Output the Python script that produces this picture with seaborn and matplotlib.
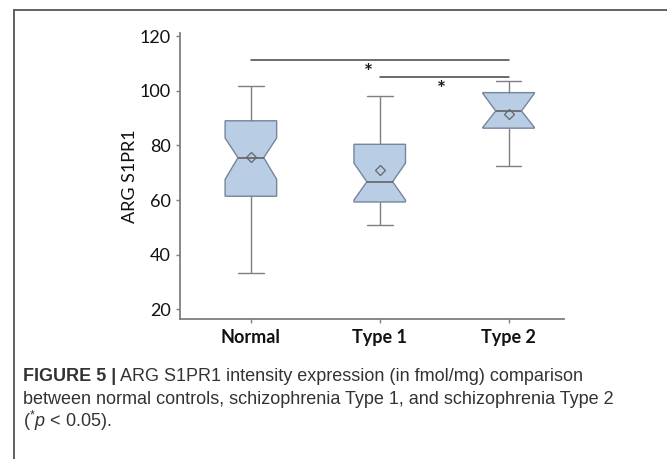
import matplotlib
matplotlib.use("Agg")
import matplotlib.pyplot as plt
import seaborn as sns
import pandas as pd
from matplotlib.lines import Line2D

# box summaries (ARG S1PR1, fmol/mg)
groups = ["Normal", "Type 1", "Type 2"]
whisker_low = [33.2, 50.8, 72.6]
q1 = [61.4, 59.3, 86.3]
medians = [75.5, 66.7, 92.6]
q3 = [89.0, 80.4, 99.3]
whisker_high = [101.7, 98.0, 103.5]
means = [75.8, 71.0, 91.4]
notch_low = [67.6, 60.0, 86.6]
notch_high = [82.7, 73.5, 99.0]

# significance brackets
sig_pairs = [("Normal", "Type 2"), ("Type 1", "Type 2")]
sig_heights = [111.2, 104.9]
star_x = [0.91, 1.48]
star_y = [104.2, 98.0]

y_ticks = [20, 40, 60, 80, 100, 120]

sns.set_style("ticks")
plt.rcParams["font.family"] = ["Lato", "DejaVu Sans"]
plt.rcParams["mathtext.fontset"] = "custom"
plt.rcParams["mathtext.rm"] = "Liberation Sans"
plt.rcParams["mathtext.it"] = "Liberation Sans:italic"

box_fill = "#b9cde5"
box_edge = "#76859a"
grey = "#7f7f7f"

fig = plt.figure(figsize=(6.67, 4.59), dpi=100)
ax = fig.add_axes([180 / 667, 1 - 319 / 459, 384 / 667, 285.7 / 459])

df = pd.DataFrame({"group": groups, "median": medians})
stats = [
    dict(label=g, whislo=wl, q1=a, med=m, q3=b, whishi=wh, mean=mu,
         cilo=cl, cihi=ch, fliers=[])
    for g, wl, a, m, b, wh, mu, cl, ch in zip(
        groups, whisker_low, q1, medians, q3, whisker_high, means,
        notch_low, notch_high)
]

sns.boxplot(
    data=df, x="group", y="median", order=groups, ax=ax,
    width=0.4, color=box_fill, saturation=1, linecolor=box_edge, linewidth=1,
    notch=True, showmeans=True, bxpstats=stats,
    medianprops=dict(color="#5a5a5a", linewidth=1.1),
    whiskerprops=dict(color=grey, linewidth=1),
    capprops=dict(color=grey, linewidth=1),
    meanprops=dict(marker="D", markersize=5, markerfacecolor="none",
                   markeredgecolor="#666666", markeredgewidth=0.9),
)

for (a, b), h in zip(sig_pairs, sig_heights):
    ax.plot([groups.index(a), groups.index(b)], [h, h], color="#444444", lw=1.1)
for x, y in zip(star_x, star_y):
    ax.text(x, y, "*", ha="center", va="baseline", fontsize=15,
            fontweight="bold", color="#1a1a1a")

ax.set_xlim(-0.55, 2.43)
ax.set_ylim(16.5, 121)
ax.set_yticks(y_ticks)
ax.set_xlabel("")
ax.set_ylabel("ARG S1PR1", fontsize=13, color="#111111", labelpad=1)
ax.tick_params(axis="both", colors=grey, length=3, width=1,
               labelsize=13, labelcolor="#111111")
ax.tick_params(axis="x", pad=4)
for lab in ax.get_xticklabels():
    lab.set_fontweight("bold")
for s in ["left", "bottom"]:
    ax.spines[s].set_color(grey)
    ax.spines[s].set_linewidth(1.3)
sns.despine(ax=ax)

# outer frame (left and top edges of the figure panel)
fig.add_artist(Line2D([14 / 667, 14 / 667], [0, 1 - 10 / 459],
                      transform=fig.transFigure, color="#555555", lw=1.3))
fig.add_artist(Line2D([14 / 667, 1], [1 - 10 / 459, 1 - 10 / 459],
                      transform=fig.transFigure, color="#555555", lw=1.3))

cap_font = ["Liberation Sans", "DejaVu Sans"]
cap_kw = dict(fontsize=13, color="#333333", family=cap_font, va="baseline")
t1 = fig.text(23 / 667, 1 - 381 / 459, "FIGURE 5 |", fontweight="bold", **cap_kw)
plt.annotate(" ARG S1PR1 intensity expression (in fmol/mg) comparison",
             xy=(1, 0), xycoords=t1, va="bottom", fontsize=13, color="#333333",
             family=cap_font)
fig.text(23 / 667, 1 - 404 / 459,
         "between normal controls, schizophrenia Type 1, and schizophrenia Type 2",
         **cap_kw)
fig.text(23 / 667, 1 - 427 / 459, r"($^{*}\mathit{p}$ < 0.05).", **cap_kw)

fig.savefig("out.png", dpi=100)
